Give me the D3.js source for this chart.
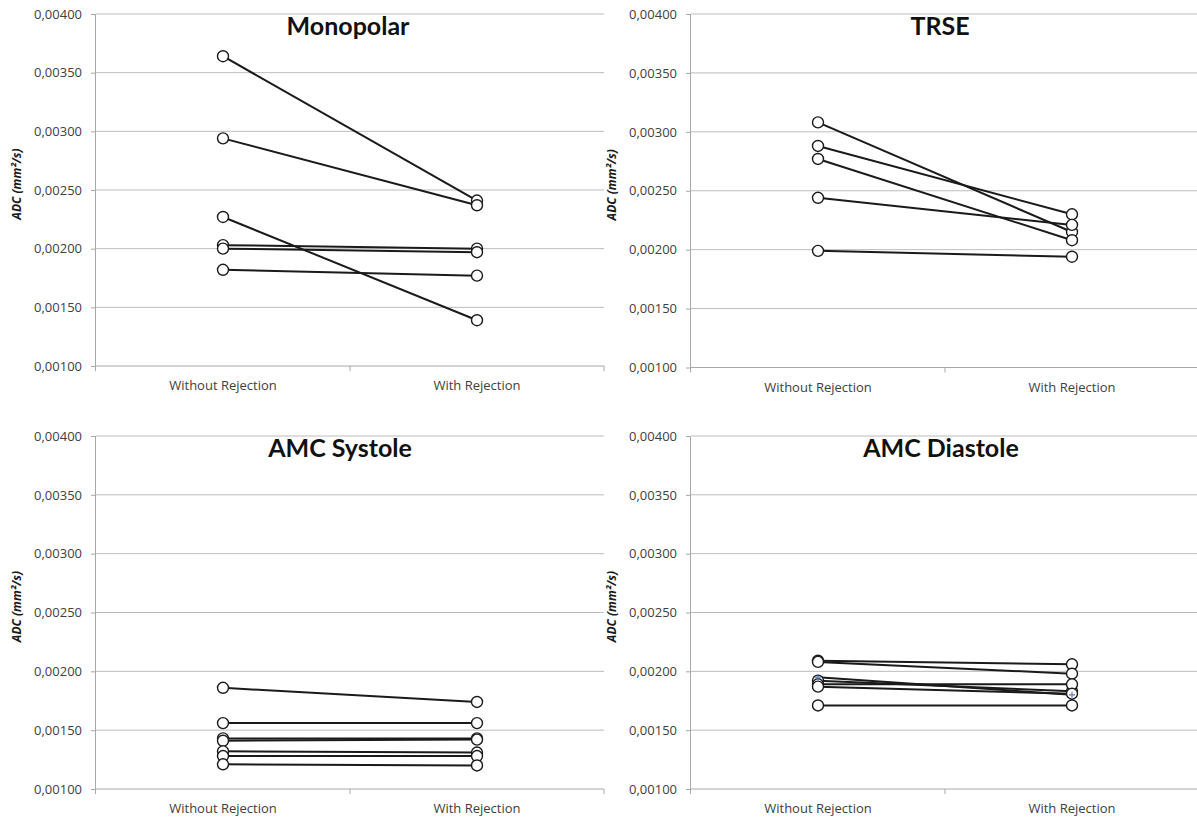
<!DOCTYPE html>
<html>
<head>
<meta charset="utf-8">
<script src="https://cdn.jsdelivr.net/npm/d3@7"></script>
<style>
  html, body { margin: 0; padding: 0; background: #fff; }
  svg { display: block; }
</style>
</head>
<body>
<svg id="chart" width="1197" height="818"></svg>
<script>
// ---------------- DATA ----------------
const categories = ["Without Rejection", "With Rejection"];
const yTicks = [0.001, 0.0015, 0.002, 0.0025, 0.003, 0.0035, 0.004];
const yTitle = "ADC (mm²/s)";

const panelTitles = ["Monopolar", "TRSE", "AMC Systole", "AMC Diastole"];

// each series: [without rejection, with rejection]
const monopolarSeries = [
  [0.00364, 0.00241],
  [0.00294, 0.00237],
  [0.00227, 0.00139],
  [0.00203, 0.00200],
  [0.00200, 0.00197],
  [0.00182, 0.00177]
];
const trseSeries = [
  [0.00308, 0.00215],
  [0.00288, 0.00230],
  [0.00277, 0.00208],
  [0.00244, 0.00221],
  [0.00199, 0.00194]
];
const systoleSeries = [
  [0.00186, 0.00174],
  [0.00156, 0.00156],
  [0.00143, 0.00143],
  [0.00141, 0.00142],
  [0.00132, 0.00131],
  [0.00128, 0.00128],
  [0.00121, 0.00120]
];
const diastoleSeries = [
  [0.00209, 0.00206],
  [0.00208, 0.00198],
  [0.00192, 0.00183],
  [0.00189, 0.00189],
  [0.00187, 0.00181],
  [0.00171, 0.00171]
];
// extra diastole series drawn with small "+" markers
const diastolePlusSeries = [
  [0.00195, 0.00180]
];

// ---------------- LAYOUT ----------------
const panels = [
  { title: panelTitles[0], series: monopolarSeries, plus: [], x0: 96,  x1: 604,  yTop: 14,  yBot: 366, titleDx: -2 },
  { title: panelTitles[1], series: trseSeries,      plus: [], x0: 691, x1: 1199, yTop: 14,  yBot: 367.5, titleDx: -5 },
  { title: panelTitles[2], series: systoleSeries,   plus: [], x0: 96,  x1: 604,  yTop: 436, yBot: 789, titleDx: -10 },
  { title: panelTitles[3], series: diastoleSeries,  plus: diastolePlusSeries, x0: 691, x1: 1199, yTop: 436, yBot: 789, titleDx: -4 }
];

const svg = d3.select("#chart");
const fmt = v => d3.format(".5f")(v).replace(".", ",");
const gridColor = "#bcbcbc";
const axisColor = "#a8a8a8";
const textColor = "#404040";

panels.forEach(p => {
  const g = svg.append("g");
  const x = d3.scaleBand().domain(categories).range([p.x0, p.x1]).padding(0);
  const y = d3.scaleLinear().domain([0.001, 0.004]).range([p.yBot, p.yTop]);
  const cx = c => x(c) + x.bandwidth() / 2;

  // gridlines
  g.selectAll("line.grid").data(yTicks.filter(t => t > 0.001)).join("line")
    .attr("x1", p.x0).attr("x2", p.x1)
    .attr("y1", d => y(d)).attr("y2", d => y(d))
    .attr("stroke", gridColor).attr("stroke-width", 1);

  // y axis
  const yAxis = d3.axisLeft(y).tickValues(yTicks).tickFormat(fmt).tickSize(5).tickPadding(9);
  const ya = g.append("g").attr("transform", `translate(${p.x0},0)`).call(yAxis);
  ya.select(".domain").attr("stroke", axisColor).attr("d", `M-0.5,${p.yTop}V${p.yBot + 5}`);
  ya.selectAll(".tick line").attr("stroke", axisColor);
  ya.selectAll(".tick text")
    .attr("fill", textColor)
    .style("font-family", "'Open Sans', sans-serif")
    .style("font-size", "13px");

  // x axis: line at bottom, ticks at band boundaries
  g.append("line")
    .attr("x1", p.x0).attr("x2", p.x1)
    .attr("y1", y(0.001)).attr("y2", y(0.001))
    .attr("stroke", axisColor).attr("stroke-width", 1);
  const bounds = categories.map(c => x(c)).concat([x(categories[categories.length - 1]) + x.bandwidth()]);
  g.selectAll("line.xt").data(bounds.slice(1)).join("line")
    .attr("x1", d => d).attr("x2", d => d)
    .attr("y1", y(0.001)).attr("y2", y(0.001) + 5)
    .attr("stroke", axisColor);
  g.selectAll("text.xl").data(categories).join("text")
    .attr("x", d => cx(d)).attr("y", y(0.001) + 24)
    .attr("text-anchor", "middle")
    .attr("fill", textColor)
    .style("font-family", "'Open Sans', sans-serif")
    .style("font-size", "13px")
    .text(d => d);

  // y axis title
  const yMid = (p.yTop + p.yBot) / 2 - 6;
  g.append("text")
    .attr("transform", `translate(${p.x0 - 75},${yMid}) rotate(-90)`)
    .attr("text-anchor", "middle")
    .attr("fill", "#1a1a1a")
    .style("font-family", "'Open Sans', sans-serif")
    .style("font-size", "12px")
    .style("font-weight", "bold")
    .style("font-style", "italic")
    .text(yTitle);

  // title
  g.append("text")
    .attr("x", (p.x0 + p.x1) / 2 + p.titleDx)
    .attr("y", p.yTop + 21)
    .attr("text-anchor", "middle")
    .attr("fill", "#111")
    .style("font-family", "Lato, 'Open Sans', sans-serif")
    .style("font-size", "25px")
    .style("font-weight", "bold")
    .text(p.title);

  const line = d3.line().x((d, i) => cx(categories[i])).y(d => y(d));

  // plus-marker series
  p.plus.forEach(s => {
    g.append("path").attr("d", line(s)).attr("fill", "none")
      .attr("stroke", "#1a1a1a").attr("stroke-width", 2);
  });

  // circle-marker series
  p.series.forEach(s => {
    g.append("path").attr("d", line(s)).attr("fill", "none")
      .attr("stroke", "#1a1a1a").attr("stroke-width", 2);
    g.selectAll(null).data(s).join("circle")
      .attr("cx", (d, i) => cx(categories[i]))
      .attr("cy", d => y(d))
      .attr("r", 5.5)
      .attr("fill", "#fff")
      .attr("stroke", "#1a1a1a")
      .attr("stroke-width", 1.4);
  });

  p.plus.forEach(s => {
    s.forEach((d, i) => {
      const px = cx(categories[i]), py = y(d);
      g.append("path")
        .attr("d", `M${px - 3},${py}H${px + 3}M${px},${py - 3}V${py + 3}`)
        .attr("stroke", "#5b7fc0").attr("stroke-width", 1.2);
    });
  });
});
</script>
</body>
</html>
